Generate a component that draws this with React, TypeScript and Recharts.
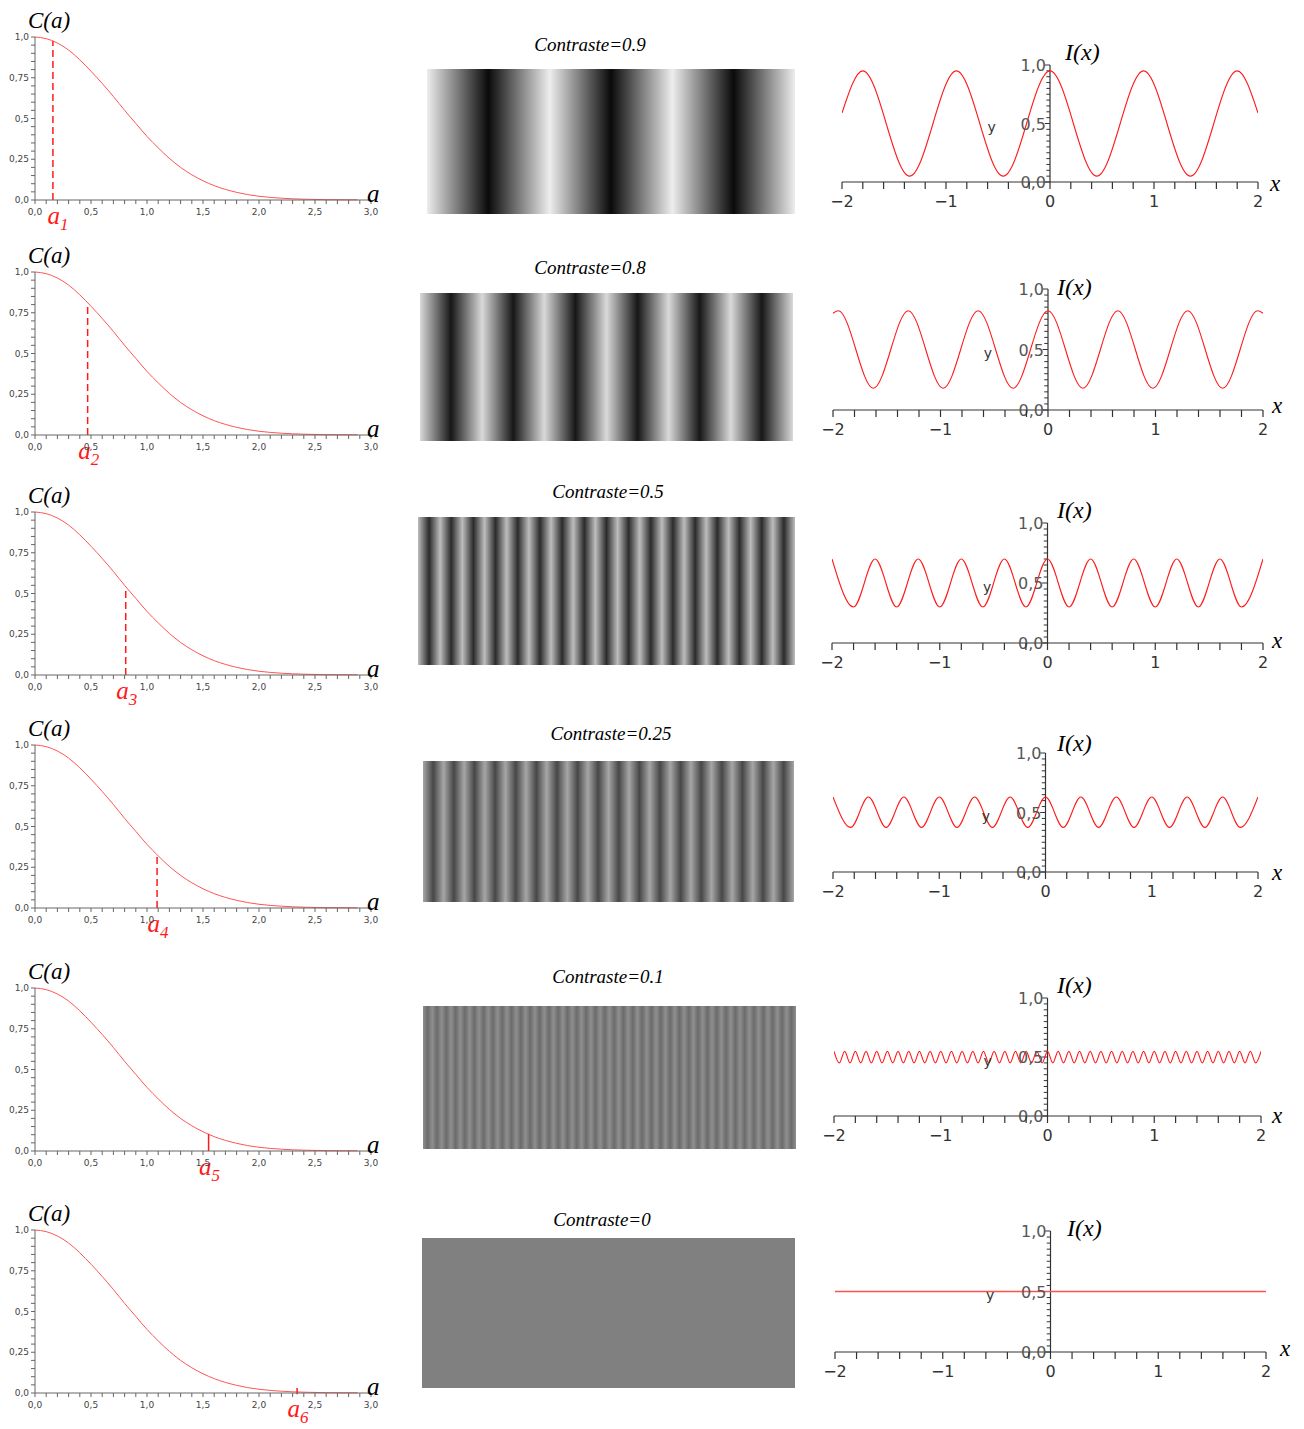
import React from "react";
import { LineChart, ComposedChart, Line, Area, XAxis, YAxis, ReferenceLine, ReferenceDot } from "recharts";

if (typeof document !== "undefined") document.body.style.margin = "0";

// ---- C(a) curve ----
const cA = [0, 0.1, 0.2, 0.3, 0.4, 0.5, 0.6, 0.7, 0.8, 0.9, 1.0, 1.1, 1.2, 1.3, 1.4, 1.5, 1.6, 1.7, 1.8, 1.9, 2.0, 2.2, 2.4, 2.6, 2.88];
const cC = [1.0, 0.99, 0.963, 0.92, 0.86, 0.79, 0.715, 0.635, 0.55, 0.47, 0.39, 0.32, 0.255, 0.2, 0.155, 0.118, 0.088, 0.065, 0.047, 0.033, 0.023, 0.011, 0.005, 0.002, 0.001];

const contrastLabels = ["0.9", "0.8", "0.5", "0.25", "0.1", "0"];
const markerA = [0.16, 0.47, 0.81, 1.09, 1.55, 2.34];
const markerTop = [0.975, 0.81, 0.535, 0.33, 0.105, 0.03];
const markerBottom = [0, 0, 0, 0, 0, -0.008];
const markerSub = ["1", "2", "3", "4", "5", "6"];

// ---- I(x) curves: crest / trough positions ----
const wave1Peaks = [-1.8, -0.9, 0, 0.9, 1.8];
const wave1Troughs = [-1.35, -0.45, 0.45, 1.35];
const wave1Levels = [0.95, 0.05];
const wave1Ends = [0.59, 0.59];

const wave2Peaks = [-1.95, -1.3, -0.65, 0, 0.65, 1.3, 1.95];
const wave2Troughs = [-1.625, -0.975, -0.325, 0.325, 0.975, 1.625];
const wave2Levels = [0.82, 0.18];
const wave2Ends = [0.8, 0.8];

const wave3Peaks = [-2, -1.6, -1.2, -0.8, -0.4, 0, 0.4, 0.8, 1.2, 1.6, 2];
const wave3Troughs = [-1.8, -1.4, -1.0, -0.6, -0.2, 0.2, 0.6, 1.0, 1.4, 1.8];
const wave3Levels = [0.7, 0.3];
const wave3Ends = [0.7, 0.7];

const wave4Peaks = [-2, -1.667, -1.333, -1, -0.667, -0.333, 0, 0.333, 0.667, 1, 1.333, 1.667, 2];
const wave4Troughs = [-1.833, -1.5, -1.167, -0.833, -0.5, -0.167, 0.167, 0.5, 0.833, 1.167, 1.5, 1.833];
const wave4Levels = [0.63, 0.375];
const wave4Ends = [0.63, 0.63];

const wave5Peaks = [-2, -1.9, -1.8, -1.7, -1.6, -1.5, -1.4, -1.3, -1.2, -1.1, -1, -0.9, -0.8, -0.7, -0.6, -0.5, -0.4, -0.3, -0.2, -0.1, 0, 0.1, 0.2, 0.3, 0.4, 0.5, 0.6, 0.7, 0.8, 0.9, 1, 1.1, 1.2, 1.3, 1.4, 1.5, 1.6, 1.7, 1.8, 1.9, 2];
const wave5Troughs = [-1.95, -1.85, -1.75, -1.65, -1.55, -1.45, -1.35, -1.25, -1.15, -1.05, -0.95, -0.85, -0.75, -0.65, -0.55, -0.45, -0.35, -0.25, -0.15, -0.05, 0.05, 0.15, 0.25, 0.35, 0.45, 0.55, 0.65, 0.75, 0.85, 0.95, 1.05, 1.15, 1.25, 1.35, 1.45, 1.55, 1.65, 1.75, 1.85, 1.95];
const wave5Levels = [0.548, 0.45];
const wave5Ends = [0.548, 0.548];

const wave6Peaks: number[] = [];
const wave6Troughs: number[] = [];
const wave6Levels = [0.5, 0.5];
const wave6Ends = [0.5, 0.5];

// ---- stripe images: grey level at each light / dark band centre ----
const stripe1 = [0.93, 0.04, 0.93, 0.04, 0.93, 0.04, 0.93];
const stripe2 = [0.85, 0.09, 0.85, 0.09, 0.85, 0.09, 0.85, 0.09, 0.85, 0.09, 0.85, 0.09, 0.85];
const stripe3 = [0.74, 0.17, 0.74, 0.17, 0.74, 0.17, 0.74, 0.17, 0.74, 0.17, 0.74, 0.17, 0.74, 0.17, 0.74, 0.17, 0.74, 0.17, 0.74, 0.17, 0.74, 0.17, 0.74, 0.17, 0.74, 0.17, 0.74, 0.17, 0.74, 0.17, 0.74, 0.17, 0.74, 0.17, 0.74];
const stripe4 = [0.65, 0.28, 0.65, 0.28, 0.65, 0.28, 0.65, 0.28, 0.65, 0.28, 0.65, 0.28, 0.65, 0.28, 0.65, 0.28, 0.65, 0.28, 0.65, 0.28, 0.65, 0.28, 0.65, 0.28, 0.65, 0.28, 0.65, 0.28, 0.65, 0.28, 0.65, 0.28, 0.65, 0.28, 0.65, 0.28, 0.65];
const stripe5 = [0.56, 0.42, 0.56, 0.42, 0.56, 0.42, 0.56, 0.42, 0.56, 0.42, 0.56, 0.42, 0.56, 0.42, 0.56, 0.42, 0.56, 0.42, 0.56, 0.42, 0.56, 0.42, 0.56, 0.42, 0.56, 0.42, 0.56, 0.42, 0.56, 0.42, 0.56, 0.42, 0.56, 0.42, 0.56, 0.42, 0.56, 0.42, 0.56, 0.42, 0.56, 0.42, 0.56, 0.42, 0.56, 0.42, 0.56, 0.42, 0.56, 0.42, 0.56, 0.42, 0.56, 0.42, 0.56, 0.42, 0.56, 0.42, 0.56, 0.42, 0.56, 0.42, 0.56, 0.42, 0.56, 0.42, 0.56, 0.42, 0.56, 0.42, 0.56, 0.42, 0.56, 0.42, 0.56, 0.42, 0.56, 0.42, 0.56, 0.42, 0.56];
const stripe6 = [0.5, 0.5];

// ---- tick labels ----
const cYTickValues = [0, 0.25, 0.5, 0.75, 1];
const cYTickLabels = ["0,0", "0,25", "0,5", "0,75", "1,0"];
const cXTickValues = [0, 0.5, 1, 1.5, 2, 2.5, 3];
const cXTickLabels = ["0,0", "0,5", "1,0", "1,5", "2,0", "2,5", "3,0"];
const iXTickValues = [-2, -1, 0, 1, 2];
const iXTickLabels = ["\u22122", "\u22121", "0", "1", "2"];
const iYTickValues = [0, 0.5, 1];
const iYTickLabels = ["0,0", "0,5", "1,0"];

const steps = (from: number, to: number, step: number) => {
  const out: number[] = [];
  const n = Math.round((to - from) / step);
  for (let i = 0; i <= n; i++) out.push(Math.round((from + i * step) * 1000) / 1000);
  return out;
};
const cXTicks = steps(0, 3, 0.1);
const cYTicks = steps(0, 1, 0.05);
const iXTicks = steps(-2, 2, 0.2);
const iYTicks = steps(0, 1, 0.05);

const buildWave = (peaks: number[], troughs: number[], levels: number[], ends: number[]) => {
  const pts = [...peaks.map((x) => ({ x, y: levels[0] })), ...troughs.map((x) => ({ x, y: levels[1] }))];
  if (!pts.some((p) => Math.abs(p.x + 2) < 1e-6)) pts.push({ x: -2, y: ends[0] });
  if (!pts.some((p) => Math.abs(p.x - 2) < 1e-6)) pts.push({ x: 2, y: ends[1] });
  return pts.sort((a, b) => a.x - b.x);
};

const waves = [
  buildWave(wave1Peaks, wave1Troughs, wave1Levels, wave1Ends),
  buildWave(wave2Peaks, wave2Troughs, wave2Levels, wave2Ends),
  buildWave(wave3Peaks, wave3Troughs, wave3Levels, wave3Ends),
  buildWave(wave4Peaks, wave4Troughs, wave4Levels, wave4Ends),
  buildWave(wave5Peaks, wave5Troughs, wave5Levels, wave5Ends),
  buildWave(wave6Peaks, wave6Troughs, wave6Levels, wave6Ends),
];
const stripes = [stripe1, stripe2, stripe3, stripe4, stripe5, stripe6];
const cData = cA.map((a, i) => ({ a, c: cC[i] }));

// ---- layout (pixels) ----
const leftTop = [37, 272, 512, 745, 988, 1230];
const PLOT_H = 163;
const rightBox = [
  [842, 1258, 65, 182],
  [833, 1263, 289, 410],
  [832, 1263, 523, 643],
  [833, 1258, 753, 872],
  [834, 1261, 998, 1116],
  [835, 1266, 1231, 1352],
];
const stripeBox = [
  [427, 69, 368, 145],
  [420, 293, 373, 148],
  [418, 517, 377, 148],
  [423, 761, 371, 141],
  [423, 1006, 373, 143],
  [422, 1238, 373, 150],
];
const titlePos = [[590, 51], [590, 274], [608, 498], [611, 740], [608, 983], [602, 1226]];
const ixPos = [[1065, 60], [1057, 295], [1057, 518], [1057, 751], [1057, 993], [1067, 1236]];
const xLabelPos = [[1270, 191], [1272, 413], [1272, 648], [1272, 880], [1272, 1123], [1280, 1356]];

const SANS = "DejaVu Sans, Verdana, sans-serif";
const SERIF = "Liberation Serif, Times New Roman, serif";
const grey = (v: number) => {
  const g = Math.round(v * 255);
  return `rgb(${g},${g},${g})`;
};
const near = (a: number, b: number) => Math.abs(a - b) < 1e-6;

function CXTick(props: any) {
  const { x, y, payload } = props;
  const k = cXTickValues.findIndex((v) => near(v, payload.value));
  return (
    <g>
      <line x1={x} y1={y} x2={x} y2={y + 4} stroke="#666" />
      {k >= 0 && (
        <text x={x} y={y + 15} textAnchor="middle" fontSize={9} fill="#444" fontFamily={SANS}>
          {cXTickLabels[k]}
        </text>
      )}
    </g>
  );
}

function CYTick(props: any) {
  const { x, y, payload } = props;
  const k = cYTickValues.findIndex((v) => near(v, payload.value));
  return (
    <g>
      <line x1={x - 4} y1={y} x2={x} y2={y} stroke="#666" />
      {k >= 0 && (
        <text x={x - 6} y={y + 3} textAnchor="end" fontSize={9} fill="#444" fontFamily={SANS}>
          {cYTickLabels[k]}
        </text>
      )}
    </g>
  );
}

function IXTick(props: any) {
  const { x, y, payload } = props;
  const k = iXTickValues.findIndex((v) => near(v, payload.value));
  return (
    <g>
      <line x1={x} y1={y} x2={x} y2={y + 7} stroke="#333" strokeWidth={1.2} />
      {k >= 0 && (
        <text x={x} y={y + 25} textAnchor="middle" fontSize={16} fill="#333" fontFamily={SANS}>
          {iXTickLabels[k]}
        </text>
      )}
    </g>
  );
}

function ContrastCurve({ row }: { row: number }) {
  const top = leftTop[row];
  const dashed = row < 4;
  return (
    <div style={{ position: "absolute", left: 0, top: top - 40 }}>
      <LineChart width={395} height={40 + PLOT_H + 50} data={cData} margin={{ top: 40, right: 24, bottom: 20, left: 0 }}>
        <XAxis
          dataKey="a"
          type="number"
          domain={[0, 3]}
          ticks={cXTicks}
          interval={0}
          tickSize={0}
          tickMargin={0}
          tickLine={false}
          tick={CXTick}
          axisLine={{ stroke: "#666" }}
          height={30}
        />
        <YAxis
          type="number"
          domain={[0, 1]}
          ticks={cYTicks}
          interval={0}
          tickSize={0}
          tickMargin={0}
          tickLine={false}
          tick={CYTick}
          axisLine={{ stroke: "#666" }}
          width={35}
        />
        <Line dataKey="c" type="monotone" stroke="#ff5555" strokeWidth={1} dot={false} isAnimationActive={false} />
        <ReferenceLine
          segment={[
            { x: markerA[row], y: markerBottom[row] },
            { x: markerA[row], y: markerTop[row] },
          ]}
          stroke="#ff1a1a"
          strokeWidth={1.5}
          strokeDasharray={dashed ? "7 4" : undefined}
          ifOverflow="visible"
        />
        <ReferenceDot
          x={markerA[row]}
          y={0}
          r={0}
          fill="none"
          stroke="none"
          ifOverflow="visible"
          label={(p: any) => (
            <text
              x={p.viewBox.x + (row === 0 ? 5 : 1)}
              y={p.viewBox.y + 24}
              textAnchor="middle"
              fill="#ff1a1a"
              fontFamily={SERIF}
              fontStyle="italic"
              fontSize={25}
            >
              a
              <tspan dy={6} fontSize={17}>
                {markerSub[row]}
              </tspan>
            </text>
          )}
        />
      </LineChart>
    </div>
  );
}

function StripeImage({ row }: { row: number }) {
  const [x, y, w, h] = stripeBox[row];
  const bands = stripes[row];
  const last = bands.length - 1;
  // full-height band area; the grey levels come in through the gradient stops
  const data = bands.map((v, i) => ({ i, v, full: 1 }));
  const id = `stripes${row}`;
  return (
    <div style={{ position: "absolute", left: x, top: y }}>
      <ComposedChart width={w} height={h} data={data} margin={{ top: 0, right: 0, bottom: 0, left: 0 }}>
        <defs>
          <linearGradient id={id} x1="0" y1="0" x2="1" y2="0">
            {bands.map((v, i) => (
              <stop key={i} offset={`${(i / last) * 100}%`} stopColor={grey(v)} />
            ))}
          </linearGradient>
        </defs>
        <XAxis dataKey="i" type="number" domain={[0, last]} hide />
        <YAxis type="number" domain={[0, 1]} hide />
        <Area
          dataKey="full"
          type="linear"
          stroke="none"
          fill={`url(#${id})`}
          fillOpacity={1}
          dot={false}
          activeDot={false}
          isAnimationActive={false}
        />
      </ComposedChart>
    </div>
  );
}

function IntensityPlot({ row }: { row: number }) {
  const [xL, xR, yT, yB] = rightBox[row];
  const w = xR - xL + 65;
  const h = yB - yT + 75;
  const flat = row === 5;
  return (
    <div style={{ position: "absolute", left: xL - 20, top: yT - 40 }}>
      <LineChart width={w} height={h} data={waves[row]} margin={{ top: 40, right: 45, bottom: 0, left: 20 }}>
        <XAxis
          dataKey="x"
          type="number"
          domain={[-2, 2]}
          ticks={iXTicks}
          interval={0}
          tickSize={0}
          tickMargin={0}
          tickLine={false}
          tick={IXTick}
          axisLine={{ stroke: "#333", strokeWidth: 1.2 }}
          height={35}
          allowDataOverflow
        />
        <YAxis type="number" domain={[0, 1]} hide allowDataOverflow />
        <ReferenceLine
          segment={[
            { x: 0, y: 0 },
            { x: 0, y: 1 },
          ]}
          stroke="#333"
          strokeWidth={1.2}
          ifOverflow="visible"
        />
        {iYTicks.map((v) => {
          const major = iYTickValues.some((m) => near(m, v));
          return (
            <ReferenceLine
              key={v}
              segment={[
                { x: major ? -0.05 : -0.035, y: v },
                { x: 0, y: v },
              ]}
              stroke="#333"
              strokeWidth={1}
              ifOverflow="visible"
            />
          );
        })}
        <Line
          dataKey="y"
          type="monotone"
          stroke={flat ? "#ff5050" : "#ff1a1a"}
          strokeWidth={flat ? 1.6 : 1.1}
          dot={false}
          isAnimationActive={false}
        />
        {iYTickValues.map((v, i) => (
          <ReferenceDot
            key={v}
            x={0}
            y={v}
            r={0}
            fill="none"
            stroke="none"
            ifOverflow="visible"
            label={(p: any) => (
              <text x={p.viewBox.x - 4} y={p.viewBox.y + 6} textAnchor="end" fontSize={16} fill="#555" fontFamily={SANS}>
                {iYTickLabels[i]}
              </text>
            )}
          />
        ))}
        <ReferenceDot
          x={-0.56}
          y={0.47}
          r={0}
          fill="none"
          stroke="none"
          ifOverflow="visible"
          label={(p: any) => (
            <text x={p.viewBox.x} y={p.viewBox.y + 5} textAnchor="middle" fontSize={14} fill="#333" fontFamily={SANS}>
              y
            </text>
          )}
        />
      </LineChart>
    </div>
  );
}

export default function App() {
  const rows = [0, 1, 2, 3, 4, 5];
  return (
    <div style={{ position: "relative", width: 1304, height: 1429, background: "#fff", overflow: "hidden" }}>
      {rows.map((r) => (
        <React.Fragment key={r}>
          <ContrastCurve row={r} />
          <StripeImage row={r} />
          <IntensityPlot row={r} />
        </React.Fragment>
      ))}
      <svg width={1304} height={1429} style={{ position: "absolute", left: 0, top: 0, pointerEvents: "none" }}>
        {rows.map((r) => (
          <g key={r} fontFamily={SERIF} fontStyle="italic" fill="#000">
            <text x={28} y={leftTop[r] - 9} fontSize={23}>
              C(a)
            </text>
            <text x={367} y={leftTop[r] + PLOT_H + 2} fontSize={25}>
              a
            </text>
            <text x={titlePos[r][0]} y={titlePos[r][1]} fontSize={19} textAnchor="middle">
              {`Contraste=${contrastLabels[r]}`}
            </text>
            <text x={ixPos[r][0]} y={ixPos[r][1]} fontSize={24}>
              I(x)
            </text>
            <text x={xLabelPos[r][0]} y={xLabelPos[r][1]} fontSize={23}>
              x
            </text>
          </g>
        ))}
      </svg>
    </div>
  );
}
